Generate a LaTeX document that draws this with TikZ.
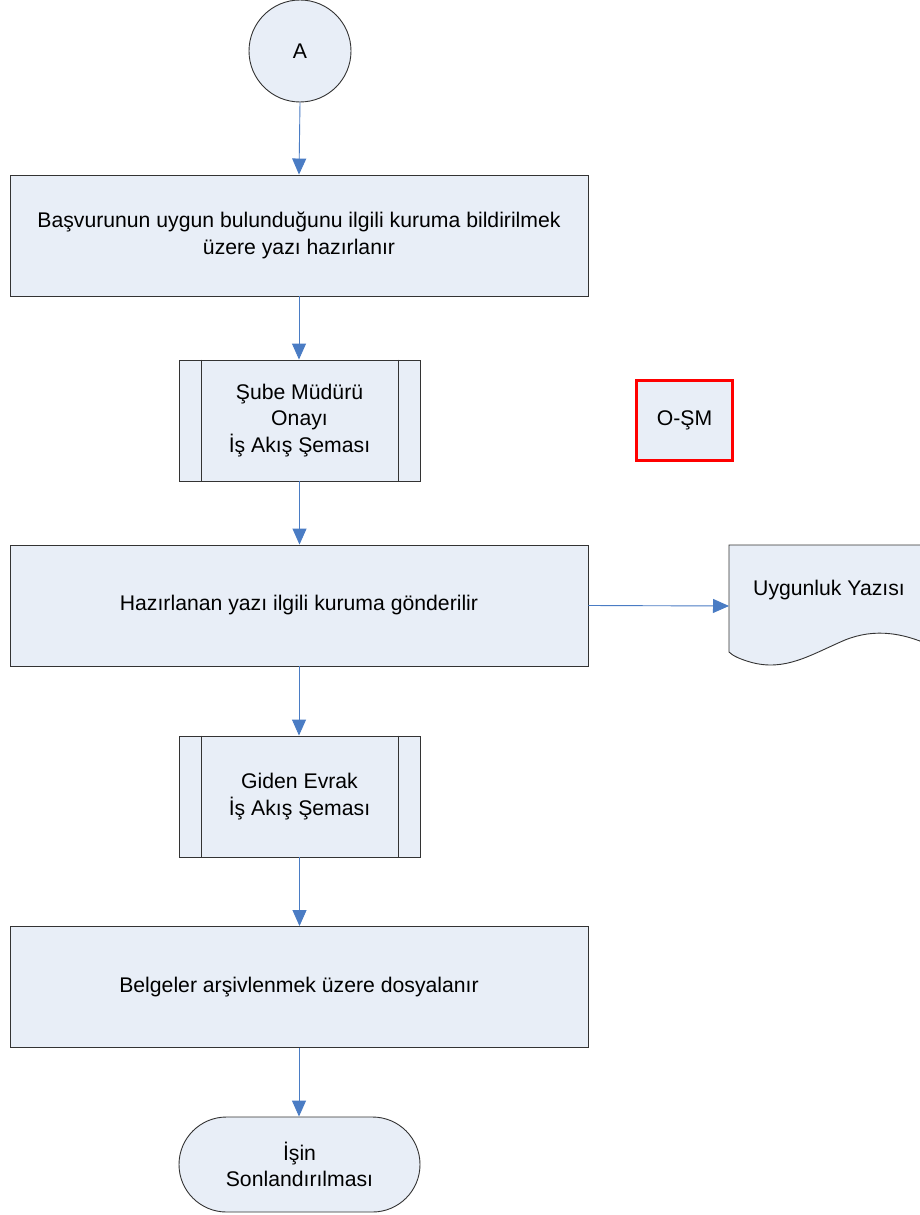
\documentclass[tikz,border=0pt]{standalone}
\usepackage{fontspec}
\setmainfont{Liberation Sans}
\usetikzlibrary{arrows.meta,shapes.misc}
\definecolor{boxfill}{HTML}{E8EEF7}
\definecolor{arrowc}{HTML}{4A7CC4}
\begin{document}
\begin{tikzpicture}[x=1pt,y=-1pt,
  every node/.style={font=\fontsize{21.2}{26.5}\selectfont, align=center, text=black},
  procbox/.style={draw=black!80, fill=boxfill, line width=0.9pt, minimum width=578pt, minimum height=121pt, inner sep=0pt},
  predef/.style={draw=black!80, fill=boxfill, line width=0.9pt, minimum width=241pt, minimum height=121pt, inner sep=0pt},
  termbox/.style={draw=black!80, fill=boxfill, line width=0.9pt, rounded rectangle, minimum width=241pt, minimum height=95pt, inner sep=0pt},
  conn/.style={draw=arrowc, line width=0.9pt, -{Triangle[width=14pt,length=16pt]}}
]
\clip (0,0) rectangle (920,1215);
\useasboundingbox (0,0) rectangle (920,1215);
\fill[white] (0,0) rectangle (920,1215);

% start connector
\node[circle, draw=black!80, fill=boxfill, line width=0.9pt, minimum size=102pt, inner sep=0pt] (A) at (300,51) {A};

\node[procbox] (r1) at (299,235.5) {Başvurunun uygun bulunduğunu ilgili kuruma bildirilmek\\üzere yazı hazırlanır};

\node[predef] (p1) at (299.5,420.5) {Şube Müdürü\\Onayı\\İş Akış Şeması};
\draw[black!80, line width=0.9pt] ([xshift=23pt]p1.north west) -- ([xshift=23pt]p1.south west);
\draw[black!80, line width=0.9pt] ([xshift=-22pt]p1.north east) -- ([xshift=-22pt]p1.south east);

\node[draw=red, line width=2.2pt, fill=boxfill, minimum width=96pt, minimum height=80pt, inner sep=0pt] (osm) at (684.5,420.5) {O-ŞM};

\node[procbox] (r2) at (299,605.5) {Hazırlanan yazı ilgili kuruma gönderilir};

% document shape
\draw[black!80, fill=boxfill, line width=0.9pt]
  (729,545) -- (940,545) -- (940,650)
  .. controls (905,632) and (875,628) .. (845,640)
  .. controls (810,655) and (785,672) .. (750,662)
  .. controls (740,659) and (733,656) .. (729,652) -- cycle;
\coordinate (docin) at (729,606);
\node (doctext) at (829,590) {Uygunluk Yazısı};

\node[predef] (p2) at (299.5,796.5) {Giden Evrak\\İş Akış Şeması};
\draw[black!80, line width=0.9pt] ([xshift=23pt]p2.north west) -- ([xshift=23pt]p2.south west);
\draw[black!80, line width=0.9pt] ([xshift=-22pt]p2.north east) -- ([xshift=-22pt]p2.south east);

\node[procbox] (r3) at (299,987) {Belgeler arşivlenmek üzere dosyalanır};

\node[termbox] (t) at (299.5,1164.5) {İşin\\Sonlandırılması};

% connectors
\draw[conn] (A.south) -- (r1.north);
\draw[conn] (r1.south) -- (r1.south |- p1.north);
\draw[conn] (p1.south) -- (p1.south |- r2.north);
\draw[conn] (r2.east) -- (docin);
\draw[conn] (r2.south) -- (r2.south |- p2.north);
\draw[conn] (p2.south) -- (p2.south |- r3.north);
\draw[conn] (r3.south) -- (r3.south |- t.north);
\end{tikzpicture}
\end{document}
